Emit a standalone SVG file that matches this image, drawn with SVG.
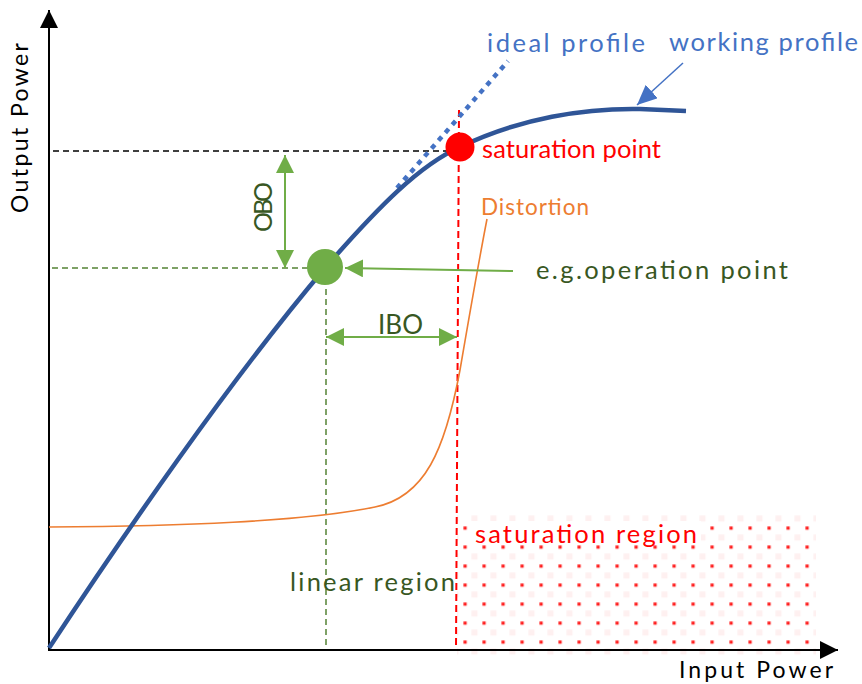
<svg xmlns="http://www.w3.org/2000/svg" width="862" height="684" viewBox="0 0 862 684">
<style>
  text { font-family: Lato, "Open Sans", "Liberation Sans", sans-serif; font-size: 25.5px; }
  .blue { fill: #4472C4; }
  .red { fill: #FF0000; }
  .orange { fill: #ED7D31; }
  .green { fill: #385723; }
  .black { fill: #000000; font-size: 23px; }
  .axis { stroke: #000; stroke-width: 2; fill: none; }
  .dash-black { stroke: #000; stroke-width: 1.5; stroke-dasharray: 6 4; fill: none; }
  .dash-green { stroke: #548235; stroke-width: 1.5; stroke-dasharray: 6 4; fill: none; }
  .dash-red { stroke: #FF0000; stroke-width: 2; stroke-dasharray: 7 4; fill: none; }
  .garrow { stroke: #70AD47; stroke-width: 2; fill: none; }
</style>
<defs>
  <marker id="headBlack" viewBox="0 0 18 18" refX="18" refY="9" markerWidth="18" markerHeight="18" markerUnits="userSpaceOnUse" orient="auto">
    <path d="M0,0 L18,9 L0,18 Z" fill="#000"/>
  </marker>
  <marker id="headGreen" viewBox="0 0 18 18" refX="18" refY="9" markerWidth="18" markerHeight="18" markerUnits="userSpaceOnUse" orient="auto-start-reverse">
    <path d="M0,0 L18,9 L0,18 Z" fill="#70AD47"/>
  </marker>
  <marker id="headBlue" viewBox="0 0 20 18" refX="20" refY="9" markerWidth="20" markerHeight="18" markerUnits="userSpaceOnUse" orient="auto">
    <path d="M0,0 L20,9 L0,18 Z" fill="#4472C4"/>
  </marker>
  <pattern id="satPattern" patternUnits="userSpaceOnUse" x="460.25" y="523.25" width="19" height="19">
    <rect x="3.25" y="3.25" width="3.2" height="3.2" fill="#FF1A1A"/>
    <rect x="11.25" y="11.25" width="6" height="6" fill="#FEF0F0"/>
  </pattern>
</defs>

<g id="saturation-region">
  <rect x="457" y="513" width="359" height="143" fill="url(#satPattern)"/>
  <rect x="470" y="521" width="231" height="23" fill="#FFFFFF"/>
</g>

<g id="guides">
  <line class="dash-black" x1="53" y1="151" x2="447" y2="151"/>
  <line class="dash-green" x1="52" y1="268" x2="310" y2="268"/>
  <line class="dash-green" x1="326" y1="289" x2="326" y2="650"/>
  <line class="dash-red" x1="459" y1="110" x2="456" y2="649"/>
</g>

<g id="axes">
  <line class="axis" x1="49" y1="651" x2="49" y2="10" marker-end="url(#headBlack)"/>
  <line class="axis" x1="48" y1="650" x2="838" y2="650" marker-end="url(#headBlack)"/>
</g>

<g id="curves">
  <path id="distortion-curve" d="M49,527 C180,526 300,522 375,507 C425,497 445,450 460,370 C472,300 481,250 487,219" fill="none" stroke="#ED7D31" stroke-width="1.6"/>
  <line id="ideal-profile" x1="397" y1="188" x2="508" y2="61" stroke="#4472C4" stroke-width="4.5" stroke-dasharray="5 5.5"/>
  <path id="working-profile" d="M49,648 C120,540 230,380 325,268 C380,205 420,165 460,147 C520,118 585,108 640,109 L686,111" fill="none" stroke="#2F5597" stroke-width="4.5"/>
</g>

<g id="connectors">
  <line class="garrow" x1="285" y1="155" x2="285" y2="268" marker-start="url(#headGreen)" marker-end="url(#headGreen)"/>
  <line class="garrow" x1="326" y1="337" x2="457" y2="337" marker-start="url(#headGreen)" marker-end="url(#headGreen)"/>
  <line class="garrow" x1="513" y1="271" x2="345" y2="268" marker-end="url(#headGreen)"/>
  <line x1="683" y1="63" x2="637" y2="105" stroke="#4472C4" stroke-width="1.5" marker-end="url(#headBlue)"/>
</g>

<g id="saturation-point">
  <circle cx="460" cy="147" r="14.5" fill="#FF0000"/>
</g>
<g id="operation-point">
  <circle cx="325" cy="267" r="18" fill="#70AD47"/>
</g>

<g id="labels">
  <text class="blue" x="487" y="52" textLength="158" lengthAdjust="spacing">ideal profile</text>
  <text class="blue" x="669" y="51" textLength="189" lengthAdjust="spacing">working profile</text>
  <text class="red" x="482" y="158" textLength="179" lengthAdjust="spacing">saturation point</text>
  <text class="orange" x="481" y="215" textLength="108" lengthAdjust="spacing" style="font-size:22.5px">Distortion</text>
  <text class="green" x="536" y="279" textLength="252" lengthAdjust="spacing">e.g.operation point</text>
  <text class="green" transform="translate(272,232) rotate(-90)" x="0" y="0" textLength="50" lengthAdjust="spacing" style="font-size:25px">OBO</text>
  <text class="green" x="378" y="334" textLength="45" lengthAdjust="spacing" style="font-size:26px">IBO</text>
  <text class="green" x="290" y="591" textLength="165" lengthAdjust="spacing">linear region</text>
  <text class="red" x="475" y="543" textLength="222" lengthAdjust="spacing">saturation region</text>
  <text class="black" x="679" y="678" textLength="154" lengthAdjust="spacing">Input Power</text>
  <text class="black" transform="translate(28,213) rotate(-90)" x="0" y="0" textLength="170" lengthAdjust="spacing">Output Power</text>
</g>
</svg>
